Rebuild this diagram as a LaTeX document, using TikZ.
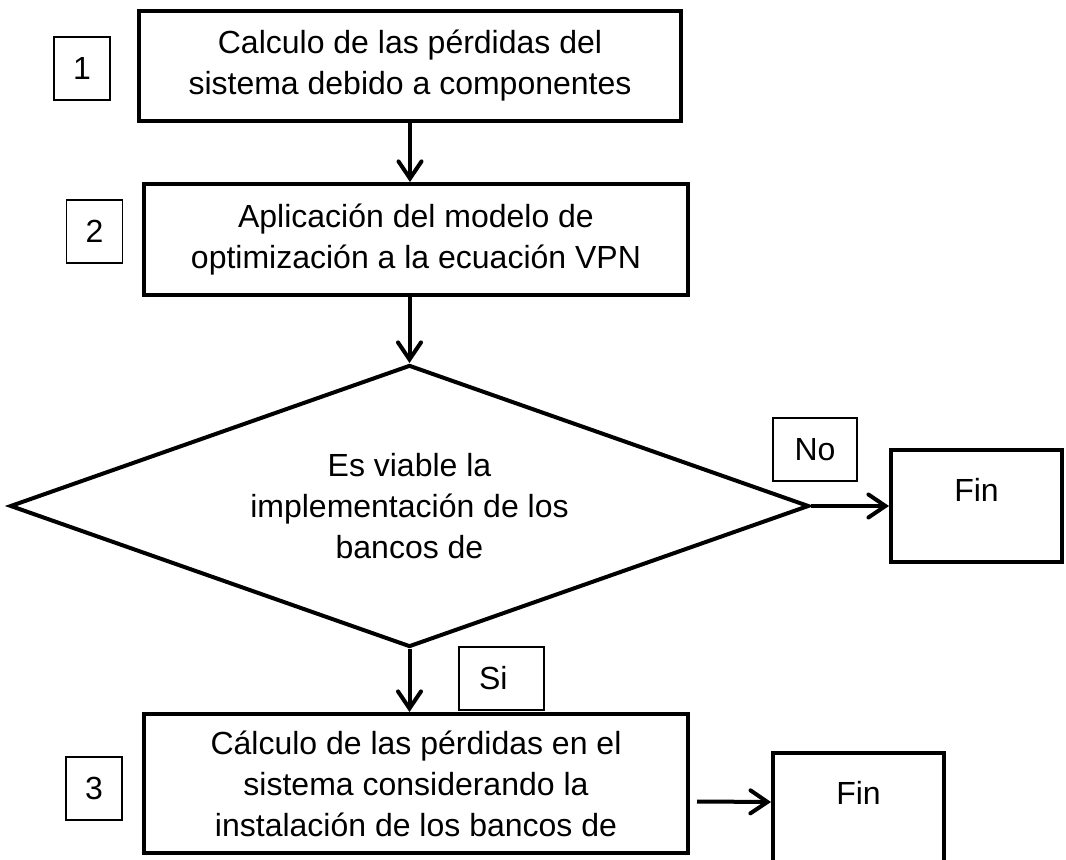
\documentclass[tikz,border=0pt]{standalone}
\usepackage{fontspec}
\setmainfont{Liberation Sans}
\usetikzlibrary{shapes.geometric,arrows.meta}

\tikzset{
  paso/.style={draw,line width=2pt,inner sep=0pt},
  numero/.style={draw,line width=0.6pt,minimum width=28pt,minimum height=31.5pt,inner sep=0pt},
  fin/.style={paso,minimum width=85.5pt,minimum height=56pt,text depth=16.5pt},
}

\begin{document}
\begin{tikzpicture}[x=0.5pt,y=-0.5pt,>={Straight Barb[length=8.5pt,width=11.5pt,line cap=round]},
  every node/.style={font=\fontsize{16}{20.5}\selectfont,align=center},
  flecha/.style={->,line width=2pt,line join=round}]
\useasboundingbox (0,0) rectangle (1066,860);

% pasos del proceso
\node[paso,minimum width=271pt,minimum height=55pt] (caja1) at (410,66)
  {Calculo de las pérdidas del\\sistema debido a componentes};
\node[paso,minimum width=272pt,minimum height=55.5pt] (caja2) at (416,239.5)
  {Aplicación del modelo de\\optimización a la ecuación VPN};
\node[paso,diamond,aspect=2.83,minimum width=399.5pt,minimum height=141pt] (rombo) at (409.5,506)
  {Es viable la\\implementación de los\\bancos de};
\node[paso,minimum width=272pt,minimum height=69.5pt] (caja3) at (416,783.5)
  {Cálculo de las pérdidas en el\\sistema considerando la\\instalación de los bancos de};
\node[fin] (fin1) at (976.5,506) {Fin};
\node[fin] (fin2) at (858.5,809) {Fin};

% numeros y etiquetas
\node[numero] (num1) at (82,68.5) {1};
\node[numero] (num2) at (94.5,231.5) {2};
\node[numero] (num3) at (94,788.5) {3};
\node[numero,minimum width=42pt] (no) at (815,449.5) {No};
\node[numero,minimum width=42.5pt,text width=22.5pt,align=left] (si) at (501.5,678.5) {Si};

% flechas
\draw[flecha] (caja1.south) -- (caja1.south |- caja2.north);
\draw[flecha] (rombo.north |- caja2.south) -- (rombo.north);
\draw[flecha] (rombo.east) -- (fin1.west);
\draw[flecha] (rombo.south) -- (rombo.south |- caja3.north);
\draw[flecha] ([shift={(7,18)}]caja3.east) -- ([yshift=3.5pt]fin2.west);
\end{tikzpicture}
\end{document}
